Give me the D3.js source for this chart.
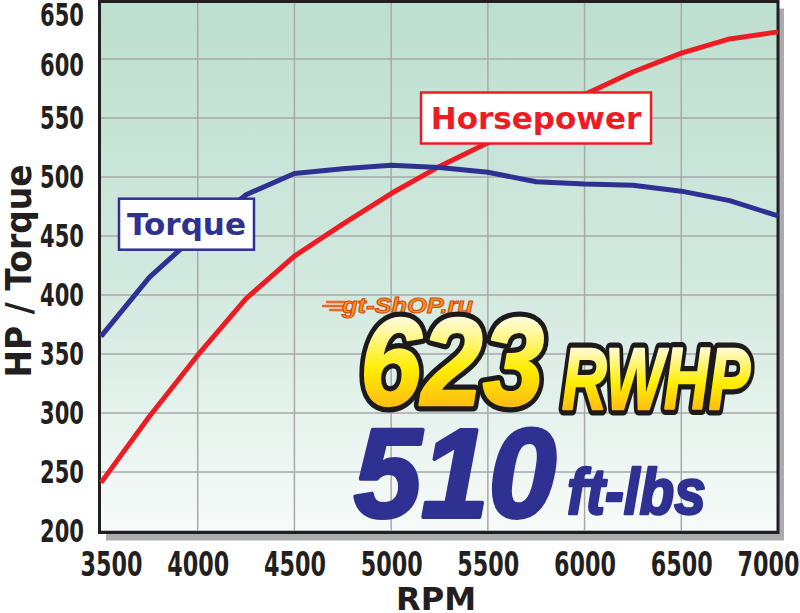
<!DOCTYPE html>
<html>
<head>
<meta charset="utf-8">
<script src="https://cdn.jsdelivr.net/npm/d3@7"></script>
<style>
  body { margin: 0; background: #fff; }
  svg { display: block; }
</style>
</head>
<body>
<script>
// values
var rpm        = [3500, 3750, 4000, 4250, 4500, 4750, 5000, 5250, 5500, 5750, 6000, 6250, 6500, 6750, 7000];
var horsepower = [241, 297, 349, 397, 433, 460, 486, 509, 529, 549, 570, 589, 605, 617, 623];
var torque     = [365, 415, 452, 485, 503, 507, 510, 508, 504, 496, 494, 493, 488, 480, 467];

var rpmTicks   = [3500, 4000, 4500, 5000, 5500, 6000, 6500, 7000];
var valueTicks = [200, 250, 300, 350, 400, 450, 500, 550, 600, 650];

var width = 800;
var height = 613;

var svg = d3.select("body")
            .append("svg")
               .attr("width", width)
               .attr("height", height);

var x = d3.scaleLinear()
         .domain([3500, 7000])
         .range([101, 778]);

var y = d3.scaleLinear()
         .domain([200, 650])
         .range([531, 0]);

var defs = svg.append("defs");

var bg = defs.append("linearGradient")
   .attr("id", "bg")
   .attr("x1", 0).attr("y1", 0).attr("x2", 0).attr("y2", 1);
bg.append("stop").attr("offset", "0%").attr("stop-color", "#bddfd0");
bg.append("stop").attr("offset", "55%").attr("stop-color", "#d3e9df");
bg.append("stop").attr("offset", "100%").attr("stop-color", "#f8fbfa");

var gold = defs.append("linearGradient")
   .attr("id", "gold")
   .attr("x1", 0).attr("y1", 0).attr("x2", 0).attr("y2", 1);
gold.append("stop").attr("offset", "0%").attr("stop-color", "#ffffff");
gold.append("stop").attr("offset", "20%").attr("stop-color", "#fffbd0");
gold.append("stop").attr("offset", "55%").attr("stop-color", "#ffed00");
gold.append("stop").attr("offset", "80%").attr("stop-color", "#fdc010");
gold.append("stop").attr("offset", "100%").attr("stop-color", "#f7941d");

var x0 = x.range()[0], x1 = x.range()[1];
var yTop = 1.5, yBot = y.range()[0] + 1.5;

// drop shadow + plot background
svg.append("rect")
   .attr("x", x0 + 5).attr("y", yTop + 7)
   .attr("width", x1 - x0 + 1).attr("height", yBot - yTop + 1)
   .style("fill", "#a9abae");

svg.append("rect")
   .attr("x", x0 - 1.5).attr("y", yTop)
   .attr("width", x1 - x0 + 1.5).attr("height", yBot - yTop)
   .style("fill", "url(#bg)");

// grid
svg.append("g").selectAll("line")
   .data(rpmTicks.slice(1, -1))
   .enter().append("line")
      .attr("x1", function(d) { return x(d); })
      .attr("x2", function(d) { return x(d); })
      .attr("y1", yTop).attr("y2", yBot)
      .style("stroke", "#a7a9ab")
      .style("stroke-width", 1.5);

svg.append("g").selectAll("line")
   .data(valueTicks.slice(0, -1))
   .enter().append("line")
      .attr("x1", x0).attr("x2", x1)
      .attr("y1", function(d) { return y(d); })
      .attr("y2", function(d) { return y(d); })
      .style("stroke", "#a7a9ab")
      .style("stroke-width", 1.5);

// frame
svg.append("rect")
   .attr("x", x0 - 1.5).attr("y", yTop)
   .attr("width", x1 - x0 + 1.5).attr("height", yBot - yTop)
   .style("fill", "none")
   .style("stroke", "#231f20")
   .style("stroke-width", 3);

// axes (labels only) - condensed look via textLength
var tickFont = "'DejaVu Sans', sans-serif";

var yAxis = d3.axisLeft(y)
      .tickValues(valueTicks)
      .tickFormat(d3.format("d"))
      .tickSize(0)
      .tickPadding(0);

var gy = svg.append("g")
   .attr("class", "y axis")
   .attr("transform", "translate(84,0)")
   .call(yAxis);
gy.select(".domain").remove();
gy.selectAll("text")
   .attr("textLength", 44)
   .attr("lengthAdjust", "spacingAndGlyphs")
   .style("font-family", tickFont)
   .style("font-weight", "bold")
   .style("font-size", "32px")
   .style("fill", "#231f20")
   .attr("dy", function(d) {
      // top labels sit a little lower on the original
      if (d == 650) return "0.8em";
      if (d == 600) return "0.52em";
      return "0.33em";
   });

var xAxis = d3.axisBottom(x)
      .tickValues(rpmTicks)
      .tickFormat(d3.format("d"))
      .tickSize(0)
      .tickPadding(0);

var gx = svg.append("g")
   .attr("class", "x axis")
   .attr("transform", "translate(0,576)")
   .call(xAxis);
gx.select(".domain").remove();
gx.selectAll("text")
   .attr("y", 0)
   .attr("dy", 0)
   .attr("dx", function(d, i) {
      if (i == 0) return 10;
      if (i == rpmTicks.length - 1) return -10;
      return 0;
   })
   .attr("textLength", 62)
   .attr("lengthAdjust", "spacingAndGlyphs")
   .style("font-family", tickFont)
   .style("font-weight", "bold")
   .style("font-size", "33px")
   .style("fill", "#231f20");

var titleFont = "'DejaVu Sans', sans-serif";

svg.append("text")
   .attr("transform", "translate(31,271) rotate(-90)")
   .attr("text-anchor", "middle")
   .attr("textLength", 213)
   .attr("lengthAdjust", "spacingAndGlyphs")
   .style("font-family", titleFont)
   .style("font-weight", "bold")
   .style("font-size", "35px")
   .style("fill", "#231f20")
   .text("HP / Torque");

svg.append("text")
   .attr("x", 436).attr("y", 610)
   .attr("text-anchor", "middle")
   .attr("textLength", 80)
   .attr("lengthAdjust", "spacingAndGlyphs")
   .style("font-family", titleFont)
   .style("font-weight", "bold")
   .style("font-size", "32px")
   .style("fill", "#231f20")
   .text("RPM");

// curves
var series = [
   { name: "Horsepower", values: horsepower, color: "#ed1c24", at: [5749, 550], w: 230 },
   { name: "Torque",     values: torque,     color: "#2e3192", at: [3942, 460], w: 135 }
];

var line = d3.line()
   .x(function(d) { return x(d[0]); })
   .y(function(d) { return y(d[1]); });

series.forEach(function(s) {
   svg.append("path")
      .datum(d3.zip(rpm, s.values))
      .attr("d", line)
      .style("fill", "none")
      .style("stroke", s.color)
      .style("stroke-width", 5)
      .style("stroke-linejoin", "round");
});

// label boxes
series.forEach(function(s) {
   var cx = x(s.at[0]), cy = y(s.at[1]);
   var g = svg.append("g").attr("transform", "translate(" + cx + "," + cy + ")");
   g.append("rect")
      .attr("x", -s.w / 2).attr("y", -25.5)
      .attr("width", s.w).attr("height", 51)
      .style("fill", "#fff")
      .style("stroke", s.color)
      .style("stroke-width", 2.5);
   g.append("text")
      .attr("y", 11)
      .attr("text-anchor", "middle")
      .style("font-family", titleFont)
      .style("font-weight", "bold")
      .style("font-size", "31px")
      .style("fill", s.color)
      .text(s.name);
});

// headline
var bigFont = "'Liberation Sans', Arial, sans-serif";

var logo = svg.append("g");
[[302, 327, 345], [306, 323, 343], [310, 330, 344]].forEach(function(l) {
   logo.append("line")
      .attr("x1", l[1]).attr("x2", l[2])
      .attr("y1", l[0]).attr("y2", l[0])
      .style("stroke", "#f26522")
      .style("stroke-width", 2.5)
      .style("stroke-linecap", "round");
});
logo.append("text")
   .attr("x", 342).attr("y", 313)
   .attr("textLength", 131)
   .attr("lengthAdjust", "spacingAndGlyphs")
   .style("font-family", bigFont)
   .style("font-weight", "bold")
   .style("font-style", "italic")
   .style("font-size", "22px")
   .style("fill", "#f7941d")
   .style("stroke", "#d1490f")
   .style("stroke-width", 1)
   .text("gt-ShOP.ru");

function outlined(txt, px, py, size, len) {
   var t = svg.append("g");
   t.append("text")
      .attr("x", px).attr("y", py)
      .attr("textLength", len)
      .attr("lengthAdjust", "spacingAndGlyphs")
      .style("font-family", bigFont)
      .style("font-weight", "bold")
      .style("font-style", "italic")
      .style("font-size", size + "px")
      .style("fill", "#1c1a1b")
      .style("stroke", "#1c1a1b")
      .style("stroke-width", 13)
      .style("stroke-linejoin", "round")
      .text(txt);
   t.append("text")
      .attr("x", px).attr("y", py)
      .attr("textLength", len)
      .attr("lengthAdjust", "spacingAndGlyphs")
      .style("font-family", bigFont)
      .style("font-weight", "bold")
      .style("font-style", "italic")
      .style("font-size", size + "px")
      .style("fill", "url(#gold)")
      .style("stroke", "url(#gold)")
      .style("stroke-width", 2.5)
      .style("stroke-linejoin", "round")
      .text(txt);
}
outlined("623", 360, 405, 124, 184);
outlined("RWHP", 562, 409, 88, 188);

svg.append("text")
   .attr("x", 354).attr("y", 517)
   .attr("textLength", 202)
   .attr("lengthAdjust", "spacingAndGlyphs")
   .style("font-family", bigFont)
   .style("font-weight", "bold")
   .style("font-style", "italic")
   .style("font-size", "126px")
   .style("fill", "#2e3192")
   .style("stroke", "#2e3192")
   .style("stroke-width", 4)
   .style("stroke-linejoin", "round")
   .text("510");

svg.append("text")
   .attr("x", 567).attr("y", 514)
   .attr("textLength", 139)
   .attr("lengthAdjust", "spacingAndGlyphs")
   .style("font-family", bigFont)
   .style("font-weight", "bold")
   .style("font-style", "italic")
   .style("font-size", "64px")
   .style("fill", "#2e3192")
   .style("stroke", "#2e3192")
   .style("stroke-width", 2.5)
   .style("stroke-linejoin", "round")
   .text("ft-lbs");
</script>
</body>
</html>
